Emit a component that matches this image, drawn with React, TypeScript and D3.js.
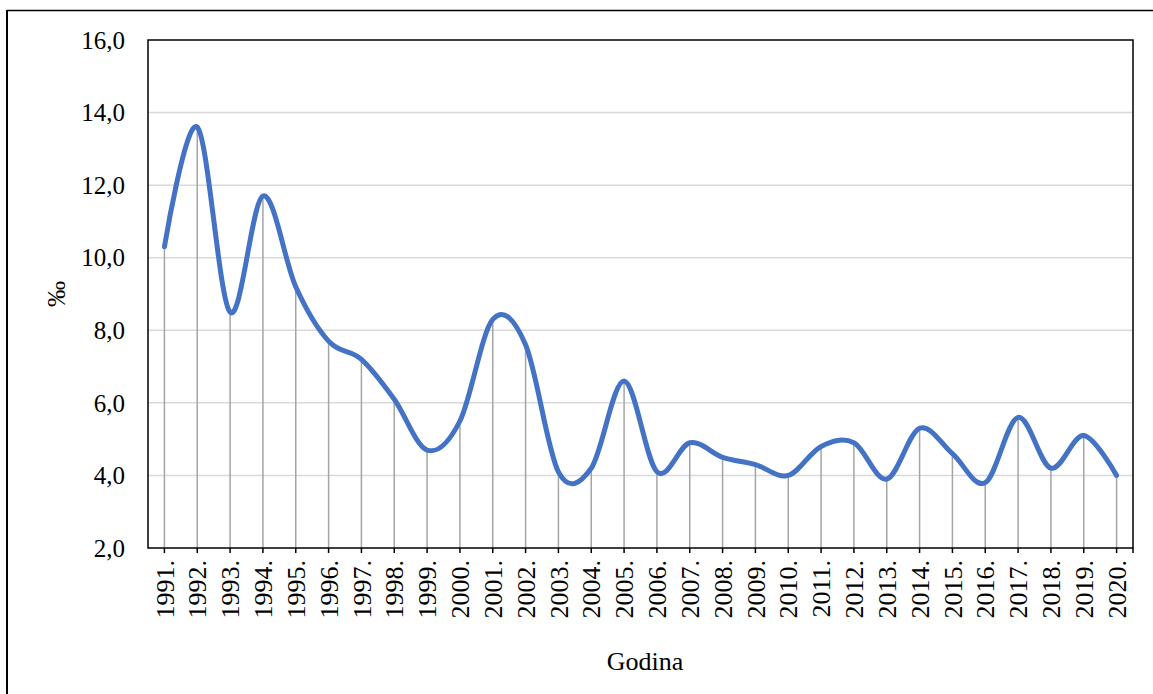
import React from "react";
import * as d3 from "d3";

const years: string[] = [
  "1991.", "1992.", "1993.", "1994.", "1995.", "1996.", "1997.", "1998.", "1999.", "2000.",
  "2001.", "2002.", "2003.", "2004.", "2005.", "2006.", "2007.", "2008.", "2009.", "2010.",
  "2011.", "2012.", "2013.", "2014.", "2015.", "2016.", "2017.", "2018.", "2019.", "2020.",
];
const values: number[] = [
  10.3, 13.6, 8.5, 11.7, 9.2, 7.7, 7.2, 6.1, 4.7, 5.5,
  8.3, 7.6, 4.1, 4.2, 6.6, 4.1, 4.9, 4.5, 4.3, 4.0,
  4.8, 4.9, 3.9, 5.3, 4.6, 3.8, 5.6, 4.2, 5.1, 4.0,
];
const yTicks: number[] = [2, 4, 6, 8, 10, 12, 14, 16];
const yTitle = "‰";
const xTitle = "Godina";

const W = 1153;
const H = 694;
const L = 148, R = 1133, T = 40, B = 548;
const FONT = '"Liberation Serif", "Times New Roman", "DejaVu Serif", serif';

export default function App() {
  const x = d3.scaleBand<string>().domain(years).range([L, R]).padding(0);
  const y = d3.scaleLinear().domain([2, 16]).range([B, T]);
  const cx = (d: string) => (x(d) as number) + x.bandwidth() / 2;
  const line = d3
    .line<number>()
    .x((_, i) => cx(years[i]))
    .y((v) => y(v))
    .curve(d3.curveCatmullRom.alpha(0));
  const fmt = (v: number) => v.toFixed(1).replace(".", ",");
  const ts = { fontFamily: FONT };

  return (
    <svg
      width={W}
      height={H}
      style={{ position: "absolute", left: 0, top: 0, background: "#fff", fontFamily: FONT }}
    >
      <rect x={0} y={0} width={W} height={H} fill="#fff" />
      {/* outer frame (top + left visible) */}
      <line x1={7} x2={W} y1={10.5} y2={10.5} stroke="#000" strokeWidth={1.5} />
      <line x1={7} x2={7} y1={10} y2={H} stroke="#000" strokeWidth={2} />

      {/* gridlines */}
      {yTicks.slice(1, -1).map((t) => (
        <line key={t} x1={L} x2={R} y1={y(t)} y2={y(t)} stroke="#D9D9D9" strokeWidth={1.5} />
      ))}

      {/* drop lines */}
      {values.map((v, i) => (
        <line
          key={years[i]}
          x1={cx(years[i])}
          x2={cx(years[i])}
          y1={y(v)}
          y2={B}
          stroke="#A5A5A5"
          strokeWidth={1.5}
        />
      ))}

      {/* series line */}
      <path d={line(values) || ""} fill="none" stroke="#4472C4" strokeWidth={5} strokeLinecap="round" strokeLinejoin="round" />

      {/* plot frame */}
      <rect x={L} y={T} width={R - L} height={B - T} fill="none" stroke="#000" strokeWidth={1.5} />

      {/* x ticks */}
      {years.map((d) => (
        <line key={d} x1={cx(d)} x2={cx(d)} y1={B} y2={B + 5} stroke="#000" strokeWidth={1.5} />
      ))}
      <line x1={R} x2={R} y1={B} y2={B + 5} stroke="#000" strokeWidth={1.5} />

      {/* y tick labels */}
      {yTicks.map((t) => (
        <text key={t} x={125} y={y(t)} dy="0.35em" textAnchor="end" fontSize={25} fill="#000" style={ts}>
          {fmt(t)}
        </text>
      ))}

      {/* x tick labels */}
      {years.map((d) => (
        <text
          key={d}
          transform={`translate(${cx(d)},${B + 12}) rotate(-90)`}
          textAnchor="end"
          dy="0.35em"
          fontSize={26}
          fill="#000"
          style={ts}
        >
          {d}
        </text>
      ))}

      {/* axis titles */}
      <text transform={`translate(56,294) rotate(-90)`} textAnchor="middle" dy="0.35em" fontSize={26} fill="#000" style={ts}>
        {yTitle}
      </text>
      <text x={645} y={661} textAnchor="middle" dy="0.35em" fontSize={26} fill="#000" style={ts}>
        {xTitle}
      </text>
    </svg>
  );
}
